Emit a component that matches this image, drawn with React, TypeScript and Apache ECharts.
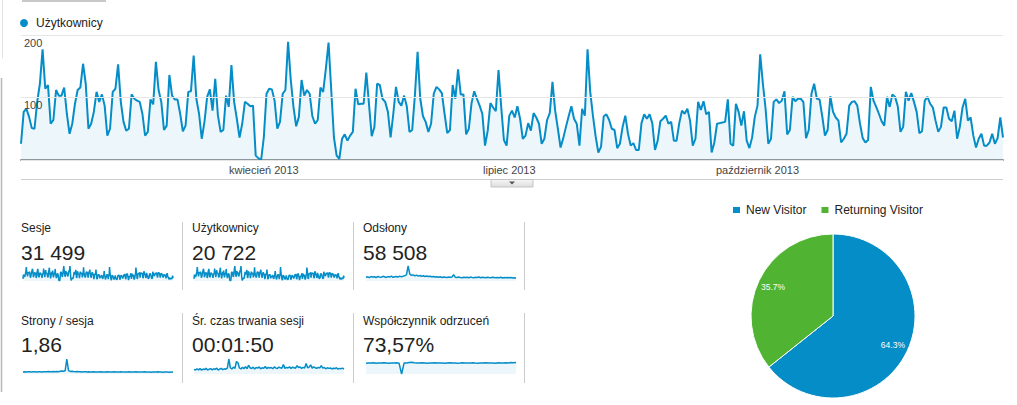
import React, { useEffect, useRef } from "react";
import * as echarts from "echarts";

// ---- Daily users (Użytkownicy), 2013-01-01 .. 2013-12-31 ----
const users1 = [26,77,82,69,51,50,93,122,177,114,120,58,64,112,103,103,116,74,42,58,90,112,116,154,122,50,58,77,109,93,105,87,39,50,109,114,153,93,61,47,50,105,98,95,93,74,39,45,97,89,157,112,93,48,55,136,103,97,97,74,46,55,109,110,167,98,74,34,61,101,113,79,130];
const users2 = [71,45,48,103,85,152,93,66,36,58,93,90,86,87,7,3,0,36,106,114,113,95,50,61,106,112,189,128,85,54,69,128,103,112,106,70,58,64,116,109,146,188,112,36,7,2,34,41,31,39,45,114,89,90,90,140,89,38,53,122,120,98,93,77,36,74,117,93,87,103,86];
const users3 = [45,48,103,173,98,70,61,45,58,106,117,113,107,74,43,48,120,98,145,105,105,41,50,91,110,98,87,74,23,47,91,84,78,144,85,32,23,71,79,68,86,66,34,39,59,47,75,68,58,26,34,64,75,125,79,50,20,35,53,70,86,66,58,23,82,71,177,109,71,38,12,21,70];
const users4 = [73,64,50,48,19,26,53,71,42,23,27,16,16,59,73,66,73,59,16,31,62,66,71,58,61,31,31,59,79,74,82,63,23,34,93,80,94,73,77,12,28,58,59,60,61,97,26,23,90,77,55,78,31,19,36,69,87,169,122,82,26,34,93,97,91,95,110,41,48,101,94,98];
const users5 = [98,93,35,48,106,122,98,97,70,39,48,102,77,68,63,28,34,42,87,93,94,87,58,35,28,32,117,95,85,74,62,55,101,85,105,101,86,45,53,109,95,107,93,77,43,46,95,101,90,84,63,45,53,84,84,66,62,79,34,53,84,98,63,68,39,20,34,42,23,23,28,42,26,35,68,36];
const users = [...users1, ...users2, ...users3, ...users4, ...users5];

const startDate = "2013-01-01";
const monthNames = ["styczeń","luty","marzec","kwiecień","maj","czerwiec","lipiec","sierpień","wrzesień","październik","listopad","grudzień"];
const labelMonths = [3, 6, 9];
const yTicks = { min: 0, max: 200, step: 100 };

// ---- Metric tiles ----
const metricNames = ["Sesje", "Użytkownicy", "Odsłony", "Strony / sesja", "Śr. czas trwania sesji", "Współczynnik odrzuceń"];
const metricValues = ["31 499", "20 722", "58 508", "1,86", "00:01:50", "73,57%"];

// Sparkline series (coarse estimates read from the small sparklines)
const pageviewsSpark = [150,170,140,180,160,175,135,185,165,150,190,170,145,180,160,195,150,175,185,160,200,170,190,220,250,610,280,230,250,210,240,200,225,190,215,185,205,180,195,170,185,160,175,150,170,145,165,155,140,160,150,165,260,150,140,160,145,135,155,140,150,130,160,145,135,150,140,160,135,150,145,130,155,140,135,150,140,130,145,135,150,125,140,135,145,130,140,125,135,110];
const pagesPerSessionSpark = [1.8,1.9,1.8,2.0,1.9,1.8,2.0,1.9,1.8,1.9,2.0,1.8,1.9,2.0,1.9,2.1,1.9,2.0,2.1,1.9,2.2,2.0,2.3,2.5,2.4,2.8,13,3.0,2.2,2.4,2.1,2.0,2.2,1.9,2.0,1.8,1.9,2.0,1.8,1.9,1.8,1.7,1.9,1.8,1.7,1.8,1.9,1.8,1.7,1.8,1.9,1.7,1.8,1.7,1.9,1.8,1.7,1.8,1.9,1.8,1.7,1.8,1.7,1.9,1.8,1.7,1.8,1.9,1.7,1.8,1.7,1.8,1.9,1.7,1.8,1.7,1.6,1.8,1.7,1.8,1.9,1.7,1.8,1.6,1.7,1.8,1.7,1.6,1.7,1.8];
const durationSpark = [110,95,125,100,130,90,120,105,135,95,115,130,100,125,110,140,95,120,135,105,125,115,140,360,150,120,165,135,300,270,145,120,160,130,175,125,210,150,130,165,120,155,140,170,125,150,135,180,130,160,140,155,125,170,145,130,165,150,140,230,135,160,145,175,130,165,150,140,200,155,170,135,160,145,250,150,165,220,140,170,150,135,160,145,200,140,155,125,150,135,145,120,140,130,150,115,135,125,140,120];
const bounceSpark = [72,74,73,75,72,74,73,75,74,72,73,74,75,72,0,74,73,76,79,75,74,73,75,74,72,74,73,75,74,73,74,72,74,75,73,74,72,73,75,74,73,74,75,73,72,74,73,75,74,73,74,72,75,74,73,75,74,76,75,77];
const sparkData = [users, users, pageviewsSpark, pagesPerSessionSpark, durationSpark, bounceSpark];
const sparkMax: (number | "dataMax")[] = ["dataMax", "dataMax", "dataMax", "dataMax", "dataMax", 100];

// ---- Visitor type pie ----
const visitorTypes = ["New Visitor", "Returning Visitor"];
const visitorShares = [64.3, 35.7];

const BLUE = "#058dc7";
const GREEN = "#50b432";
const FONT = "'Liberation Sans', Arial, Helvetica, sans-serif";

export default function App() {
  const ref = useRef<HTMLDivElement>(null);

  useEffect(() => {
    if (!ref.current) return;
    const chart = echarts.init(ref.current, null, { renderer: "svg" });

    const start = new Date(startDate + "T00:00:00Z").getTime();
    const dates = users.map((_, i) => new Date(start + i * 86400000).toISOString().slice(0, 10));

    const tileX = [21, 192, 363];
    const sparkX = [23, 194, 366];
    const rowTitleY = [228, 321];
    const rowValueY = [252, 344];
    const rowSparkTop = [266, 359];
    const sepX = [182, 353, 524];
    const sepY = [[222, 290], [313, 383]];

    const grids: any[] = [{ left: 21, top: 35, width: 982, height: 125 }];
    const xAxes: any[] = [
      {
        gridIndex: 0,
        type: "category",
        data: dates,
        boundaryGap: false,
        axisLine: { lineStyle: { color: "#9a9a9a", width: 2 } },
        axisTick: { show: false },
        splitLine: { show: false },
        axisLabel: {
          color: "#444",
          fontSize: 11,
          fontFamily: FONT,
          margin: 4,
          interval: (_i: number, v: string) => v.slice(8, 10) === "01" && labelMonths.includes(Number(v.slice(5, 7)) - 1),
          formatter: (v: string) => monthNames[Number(v.slice(5, 7)) - 1] + " " + v.slice(0, 4),
        },
      },
    ];
    const yAxes: any[] = [
      {
        gridIndex: 0,
        type: "value",
        min: yTicks.min,
        max: yTicks.max,
        interval: yTicks.step,
        z: 5,
        axisLine: { show: false },
        axisTick: { show: false },
        splitLine: { lineStyle: { color: "#e6e6e6", width: 1 } },
        axisLabel: {
          inside: true,
          showMinLabel: false,
          margin: 3,
          verticalAlign: "top",
          padding: [2, 0, 0, 0],
          color: "#444",
          fontSize: 11,
          fontFamily: FONT,
        },
      },
    ];
    const series: any[] = [
      {
        name: "Użytkownicy",
        type: "line",
        xAxisIndex: 0,
        yAxisIndex: 0,
        data: users,
        symbol: "none",
        lineStyle: { color: BLUE, width: 2 },
        itemStyle: { color: BLUE },
        areaStyle: { color: "rgba(5,141,199,0.1)" },
      },
    ];

    sparkData.forEach((arr, k) => {
      const row = Math.floor(k / 3);
      const col = k % 3;
      const gi = k + 1;
      grids.push({ left: sparkX[col], top: rowSparkTop[row], width: 150, height: 15 });
      xAxes.push({ gridIndex: gi, type: "category", show: false, boundaryGap: false, data: arr.map((_, i) => i) });
      yAxes.push({ gridIndex: gi, type: "value", show: false, min: 0, max: sparkMax[k], splitLine: { show: false } });
      series.push({
        name: "spark-" + metricNames[k],
        type: "line",
        xAxisIndex: gi,
        yAxisIndex: gi,
        data: arr,
        symbol: "none",
        silent: true,
        lineStyle: { color: BLUE, width: 1.5 },
        areaStyle: { color: "rgba(5,141,199,0.1)" },
      });
    });

    const pieData = visitorTypes.map((n, i) => ({ name: n, value: visitorShares[i], itemStyle: { color: [BLUE, GREEN][i] } }));
    series.push({
      name: "Typ użytkownika",
      type: "pie",
      center: [833, 316],
      radius: [0, 82],
      startAngle: 90,
      percentPrecision: 1,
      label: { show: false },
      labelLine: { show: false },
      itemStyle: { borderColor: "#fff", borderWidth: 1 },
      emphasis: { disabled: true },
      data: pieData,
    });
    series.push({
      name: "Typ użytkownika (etykiety)",
      type: "pie",
      center: [833, 316],
      radius: [0, 127],
      startAngle: 90,
      percentPrecision: 1,
      silent: true,
      itemStyle: { color: "rgba(0,0,0,0)" },
      label: { show: true, position: "inside", formatter: "{d}%", color: "#fff", fontSize: 8.5, fontFamily: FONT },
      labelLine: { show: false },
      emphasis: { disabled: true },
      data: visitorTypes.map((n, i) => ({ name: n, value: visitorShares[i] })),
    });

    const graphics: any[] = [];
    // page chrome
    graphics.push({ type: "line", shape: { x1: 22, y1: 1, x2: 106, y2: 1 }, style: { stroke: "#c8c8c8", lineWidth: 2 } });
    graphics.push({ type: "line", shape: { x1: 2.5, y1: 0, x2: 2.5, y2: 58 }, style: { stroke: "#e2e2e2", lineWidth: 1 } });
    graphics.push({ type: "line", shape: { x1: 1.5, y1: 78, x2: 1.5, y2: 392 }, style: { stroke: "#b8b8b8", lineWidth: 1.5 } });
    // line under chart + toggle button
    graphics.push({ type: "line", shape: { x1: 21, y1: 179.5, x2: 1003, y2: 179.5 }, style: { stroke: "#cfcfcf", lineWidth: 1 } });
    graphics.push({
      type: "rect",
      shape: { x: 491, y: 179.5, width: 42, height: 7.5 },
      style: {
        fill: new echarts.graphic.LinearGradient(0, 0, 0, 1, [
          { offset: 0, color: "#f6f6f6" },
          { offset: 1, color: "#dedede" },
        ]),
        stroke: "#c4c4c4",
        lineWidth: 1,
      },
    });
    graphics.push({ type: "polygon", shape: { points: [[509, 181.5], [515, 181.5], [512, 184.5]] }, style: { fill: "#555" } });

    // tiles
    metricNames.forEach((name, k) => {
      const row = Math.floor(k / 3);
      const col = k % 3;
      graphics.push({
        type: "text",
        x: tileX[col],
        y: rowTitleY[row],
        style: { text: name, fontSize: 12, fontFamily: FONT, fill: "#222", verticalAlign: "middle", align: "left" },
      });
      graphics.push({
        type: "text",
        x: tileX[col],
        y: rowValueY[row],
        style: { text: metricValues[k], fontSize: 21, fontFamily: FONT, fill: "#222", verticalAlign: "middle", align: "left" },
      });
    });
    sepY.forEach(([y1, y2]) => {
      sepX.forEach((x) => {
        graphics.push({ type: "line", shape: { x1: x + 0.5, y1, x2: x + 0.5, y2 }, style: { stroke: "#cccccc", lineWidth: 1 } });
      });
    });

    const option: any = {
      animation: false,
      backgroundColor: "#fff",
      textStyle: { fontFamily: FONT },
      legend: [
        {
          data: [{ name: "Użytkownicy", icon: "circle", itemStyle: { color: BLUE } }],
          left: 20,
          top: 17,
          padding: 0,
          itemWidth: 8,
          itemHeight: 8,
          itemGap: 10,
          selectedMode: false,
          textStyle: { color: "#222", fontSize: 12, fontFamily: FONT, padding: [0, 0, 0, 3] },
        },
        {
          data: visitorTypes.map((n, i) => ({ name: n, icon: "rect", itemStyle: { color: [BLUE, GREEN][i] } })),
          left: 731,
          top: 204,
          padding: 0,
          itemWidth: 9,
          itemHeight: 8,
          itemGap: 13,
          selectedMode: false,
          textStyle: { color: "#222", fontSize: 12, fontFamily: FONT },
        },
      ],
      grid: grids,
      xAxis: xAxes,
      yAxis: yAxes,
      series,
      graphic: graphics,
    };

    chart.setOption(option);
    return () => chart.dispose();
  }, []);

  return (
    <div
      ref={ref}
      style={{ position: "absolute", left: 0, top: 0, width: 1017, height: 405, background: "#fff" }}
    />
  );
}
